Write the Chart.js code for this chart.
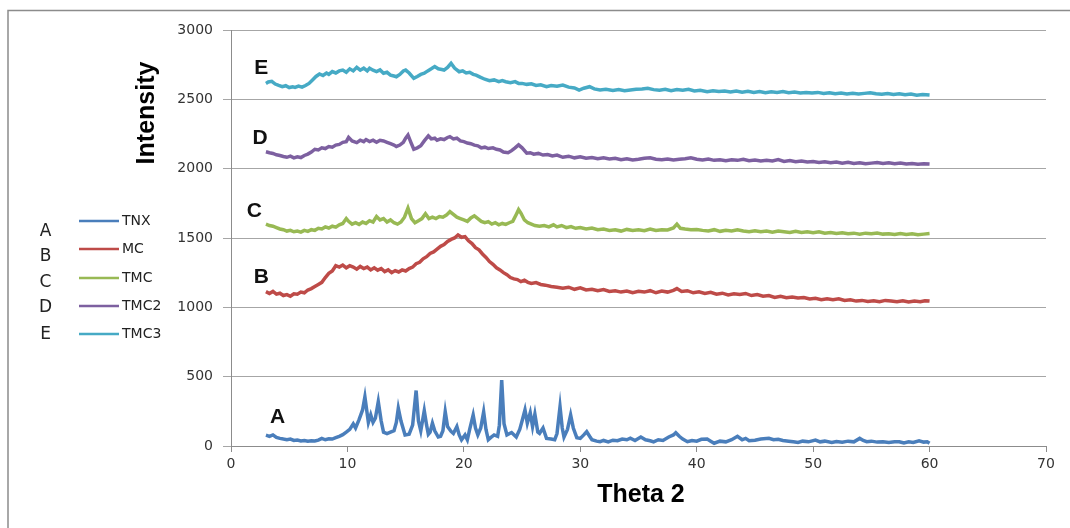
<!DOCTYPE html>
<html>
<head>
<meta charset="utf-8">
<script src="https://cdn.jsdelivr.net/npm/chart.js@4.4.1/dist/chart.umd.min.js"></script>
<style>
  html, body { margin: 0; padding: 0; background: #fff; overflow: hidden; }
  #wrap { width: 1070px; height: 528px; }
</style>
</head>
<body>
<div id="wrap"><canvas id="xrd" width="1070" height="528"></canvas></div>
<script>
// [theta2, intensity] pairs
const TNX = [[3.0,78],[3.3,70],[3.6,80],[3.9,62],[4.2,55],[4.5,50],[4.8,46],[5.1,50],[5.4,40],[5.7,43],[6.0,36],[6.3,40],[6.6,34],[6.9,38],[7.2,36],[7.5,42],[7.8,55],[8.1,45],[8.4,52],[8.7,50],[9.0,60],[9.3,70],[9.6,82],[9.9,100],[10.2,120],[10.5,160],[10.7,130],[11.0,190],[11.3,260],[11.5,355],[11.7,230],[11.8,170],[12.0,225],[12.2,170],[12.4,200],[12.65,320],[12.9,180],[13.1,100],[13.4,90],[13.7,100],[14.0,110],[14.2,170],[14.37,272],[14.6,180],[14.95,80],[15.3,85],[15.6,150],[15.9,400],[16.1,180],[16.3,110],[16.6,255],[16.8,150],[16.95,85],[17.1,100],[17.3,165],[17.5,110],[17.8,65],[18.0,70],[18.2,110],[18.4,247],[18.6,140],[18.9,105],[19.1,90],[19.4,140],[19.6,80],[19.8,45],[20.1,80],[20.3,45],[20.5,120],[20.8,224],[21.0,130],[21.2,80],[21.45,130],[21.7,247],[21.9,120],[22.1,45],[22.3,60],[22.6,80],[22.9,70],[23.05,150],[23.25,476],[23.45,160],[23.7,80],[24.1,97],[24.5,65],[24.8,120],[25.0,180],[25.25,260],[25.45,165],[25.7,240],[25.9,140],[26.1,230],[26.35,100],[26.5,90],[26.8,130],[27.1,55],[27.5,50],[27.8,45],[28.0,90],[28.26,283],[28.45,130],[28.6,65],[28.9,120],[29.17,224],[29.4,130],[29.7,60],[30.0,55],[30.3,80],[30.55,103],[30.8,70],[31.0,45],[31.4,35],[31.7,31],[32.0,40],[32.4,30],[32.8,42],[33.2,38],[33.6,50],[34.0,45],[34.3,57],[34.7,40],[35.2,65],[35.6,45],[36.0,38],[36.3,30],[36.7,45],[37.1,40],[37.6,65],[38.0,80],[38.2,96],[38.5,70],[38.8,50],[39.2,31],[39.6,40],[40.0,35],[40.4,48],[40.9,50],[41.2,35],[41.5,20],[42.0,35],[42.5,30],[43.0,45],[43.5,70],[43.9,45],[44.2,55],[44.5,38],[45.0,42],[45.5,50],[46.2,55],[46.6,45],[47.0,48],[47.4,40],[47.9,35],[48.3,30],[48.7,25],[49.1,35],[49.6,30],[50.2,43],[50.6,30],[51.0,35],[51.6,26],[52.0,32],[52.5,28],[53.0,35],[53.5,30],[54.0,55],[54.3,40],[54.6,31],[55.0,35],[55.5,28],[56.0,30],[56.5,25],[57.0,30],[57.4,31],[57.8,22],[58.2,30],[58.6,25],[59.1,38],[59.5,28],[59.8,30],[60.0,20]];

const MC = [[3.0,1113],[3.3,1100],[3.6,1115],[3.9,1095],[4.2,1102],[4.5,1085],[4.8,1092],[5.1,1080],[5.4,1098],[5.7,1095],[6.0,1110],[6.3,1105],[6.6,1125],[6.9,1135],[7.2,1150],[7.5,1165],[7.8,1180],[8.1,1215],[8.4,1245],[8.7,1262],[9.0,1300],[9.3,1290],[9.6,1305],[9.9,1285],[10.2,1300],[10.5,1290],[10.8,1275],[11.1,1295],[11.4,1280],[11.7,1290],[12.0,1270],[12.3,1285],[12.6,1268],[12.9,1280],[13.2,1258],[13.5,1270],[13.8,1250],[14.1,1265],[14.4,1255],[14.7,1270],[15.0,1262],[15.3,1280],[15.6,1290],[15.9,1315],[16.2,1325],[16.5,1350],[16.8,1365],[17.1,1389],[17.4,1400],[17.7,1420],[18.0,1440],[18.3,1452],[18.6,1475],[18.9,1490],[19.2,1500],[19.5,1522],[19.8,1505],[20.1,1510],[20.4,1480],[20.7,1460],[21.0,1430],[21.3,1415],[21.6,1385],[21.9,1360],[22.2,1330],[22.5,1310],[22.8,1285],[23.1,1270],[23.4,1250],[23.7,1235],[24.0,1215],[24.3,1205],[24.6,1200],[24.9,1185],[25.2,1195],[25.5,1180],[25.8,1172],[26.2,1178],[26.6,1165],[27.0,1160],[27.5,1150],[28.0,1145],[28.5,1137],[29.0,1145],[29.5,1130],[30.0,1140],[30.5,1125],[31.0,1130],[31.5,1120],[32.0,1128],[32.5,1115],[33.0,1120],[33.5,1110],[34.0,1118],[34.5,1105],[35.0,1115],[35.5,1110],[36.0,1120],[36.5,1105],[37.0,1118],[37.5,1110],[38.0,1122],[38.3,1135],[38.7,1115],[39.2,1120],[39.7,1105],[40.2,1112],[40.7,1100],[41.2,1108],[41.7,1095],[42.2,1102],[42.7,1090],[43.2,1098],[43.7,1092],[44.2,1100],[44.7,1085],[45.2,1092],[45.7,1080],[46.2,1085],[46.7,1072],[47.2,1080],[47.7,1070],[48.2,1075],[48.7,1068],[49.2,1070],[49.7,1060],[50.2,1065],[50.7,1055],[51.2,1062],[51.7,1055],[52.2,1062],[52.7,1050],[53.2,1055],[53.7,1045],[54.2,1050],[54.7,1042],[55.2,1048],[55.7,1040],[56.2,1050],[56.7,1045],[57.2,1040],[57.7,1048],[58.2,1038],[58.7,1045],[59.2,1040],[59.6,1048],[60.0,1045]];

const TMC = [[3.0,1600],[3.3,1590],[3.6,1585],[3.9,1575],[4.2,1565],[4.5,1560],[4.8,1550],[5.1,1555],[5.4,1545],[5.7,1550],[6.0,1542],[6.3,1555],[6.6,1548],[6.9,1560],[7.2,1555],[7.5,1570],[7.8,1565],[8.1,1580],[8.4,1572],[8.7,1585],[9.0,1578],[9.3,1595],[9.6,1605],[9.9,1640],[10.1,1620],[10.4,1600],[10.7,1610],[11.0,1598],[11.3,1615],[11.6,1605],[11.9,1625],[12.2,1615],[12.5,1655],[12.8,1630],[13.1,1640],[13.4,1615],[13.7,1630],[14.0,1610],[14.3,1600],[14.6,1615],[14.9,1650],[15.2,1715],[15.5,1640],[15.8,1610],[16.1,1625],[16.4,1640],[16.7,1675],[17.0,1640],[17.3,1650],[17.6,1640],[17.9,1655],[18.2,1650],[18.5,1665],[18.8,1690],[19.1,1670],[19.4,1650],[19.7,1640],[20.0,1630],[20.3,1620],[20.6,1645],[20.9,1660],[21.2,1640],[21.5,1620],[21.8,1610],[22.1,1618],[22.4,1600],[22.7,1610],[23.0,1595],[23.3,1605],[23.6,1598],[23.9,1610],[24.2,1620],[24.5,1670],[24.7,1705],[24.9,1680],[25.2,1630],[25.5,1610],[25.8,1600],[26.1,1590],[26.5,1585],[26.9,1590],[27.3,1580],[27.7,1595],[28.0,1580],[28.4,1590],[28.8,1575],[29.2,1582],[29.6,1570],[30.0,1575],[30.5,1565],[31.0,1572],[31.5,1560],[32.0,1565],[32.5,1555],[33.0,1560],[33.5,1550],[34.0,1562],[34.5,1555],[35.0,1560],[35.5,1552],[36.0,1565],[36.5,1555],[37.0,1560],[37.5,1558],[38.0,1572],[38.3,1600],[38.6,1570],[39.0,1565],[39.5,1560],[40.0,1562],[40.5,1555],[41.0,1550],[41.5,1560],[42.0,1548],[42.5,1556],[43.0,1550],[43.5,1560],[44.0,1550],[44.5,1545],[45.0,1552],[45.5,1545],[46.0,1550],[46.5,1542],[47.0,1550],[47.5,1545],[48.0,1540],[48.5,1548],[49.0,1540],[49.5,1545],[50.0,1538],[50.5,1545],[51.0,1535],[51.5,1540],[52.0,1532],[52.5,1538],[53.0,1530],[53.5,1535],[54.0,1528],[54.5,1535],[55.0,1530],[55.5,1536],[56.0,1528],[56.5,1530],[57.0,1525],[57.5,1532],[58.0,1526],[58.5,1530],[59.0,1524],[59.5,1528],[60.0,1532]];

const TMC2 = [[3.0,2122],[3.3,2115],[3.6,2110],[3.9,2100],[4.2,2095],[4.5,2088],[4.8,2082],[5.1,2090],[5.4,2078],[5.7,2085],[6.0,2080],[6.3,2095],[6.6,2105],[6.9,2120],[7.2,2140],[7.5,2135],[7.8,2150],[8.1,2145],[8.4,2160],[8.7,2155],[9.0,2170],[9.3,2175],[9.6,2190],[9.9,2195],[10.1,2226],[10.4,2200],[10.8,2188],[11.1,2205],[11.4,2195],[11.6,2210],[11.9,2195],[12.2,2205],[12.5,2190],[12.8,2205],[13.1,2200],[13.4,2190],[13.7,2180],[14.0,2170],[14.2,2160],[14.5,2170],[14.8,2190],[15.0,2220],[15.2,2243],[15.45,2190],[15.7,2140],[16.0,2150],[16.3,2165],[16.6,2200],[16.95,2236],[17.2,2215],[17.5,2220],[17.7,2205],[18.0,2215],[18.3,2210],[18.6,2225],[18.8,2231],[19.1,2215],[19.4,2220],[19.7,2200],[20.0,2195],[20.3,2185],[20.6,2180],[20.9,2170],[21.2,2165],[21.5,2150],[21.8,2155],[22.1,2145],[22.5,2150],[22.8,2140],[23.1,2135],[23.4,2120],[23.8,2115],[24.1,2130],[24.4,2150],[24.7,2172],[25.0,2150],[25.4,2112],[25.7,2115],[26.0,2105],[26.4,2110],[26.8,2098],[27.2,2102],[27.6,2092],[28.0,2098],[28.5,2082],[29.0,2090],[29.5,2078],[30.0,2085],[30.5,2075],[31.0,2080],[31.5,2072],[32.0,2078],[32.5,2070],[33.0,2075],[33.5,2065],[34.0,2072],[34.5,2062],[35.0,2068],[35.5,2075],[36.0,2078],[36.5,2068],[37.0,2065],[37.5,2070],[38.0,2062],[38.5,2068],[39.0,2072],[39.5,2078],[40.0,2068],[40.5,2062],[41.0,2070],[41.5,2060],[42.0,2065],[42.5,2058],[43.0,2065],[43.5,2060],[44.0,2068],[44.5,2058],[45.0,2062],[45.5,2055],[46.0,2060],[46.5,2055],[47.0,2065],[47.5,2052],[48.0,2058],[48.5,2050],[49.0,2055],[49.5,2048],[50.0,2052],[50.5,2045],[51.0,2050],[51.5,2042],[52.0,2048],[52.5,2040],[53.0,2046],[53.5,2038],[54.0,2042],[54.5,2035],[55.0,2040],[55.5,2045],[56.0,2038],[56.5,2042],[57.0,2035],[57.5,2040],[58.0,2033],[58.5,2038],[59.0,2032],[59.5,2036],[60.0,2034]];

const TMC3 = [[3.0,2615],[3.2,2625],[3.5,2630],[3.8,2610],[4.1,2600],[4.4,2591],[4.7,2598],[5.0,2585],[5.3,2590],[5.5,2586],[5.8,2595],[6.1,2588],[6.4,2600],[6.7,2615],[7.0,2640],[7.3,2665],[7.6,2683],[7.9,2672],[8.2,2690],[8.4,2680],[8.7,2700],[9.0,2690],[9.3,2705],[9.6,2711],[9.9,2695],[10.2,2720],[10.5,2705],[10.8,2731],[11.1,2710],[11.4,2725],[11.7,2705],[11.9,2724],[12.2,2710],[12.5,2700],[12.8,2712],[13.1,2688],[13.4,2695],[13.7,2675],[14.0,2668],[14.2,2663],[14.5,2680],[14.8,2705],[15.0,2711],[15.3,2690],[15.7,2651],[16.0,2665],[16.3,2680],[16.6,2688],[16.9,2705],[17.2,2720],[17.5,2736],[17.8,2720],[18.1,2715],[18.3,2711],[18.6,2730],[18.9,2760],[19.2,2725],[19.6,2699],[19.9,2705],[20.2,2690],[20.5,2695],[20.8,2680],[21.05,2675],[21.4,2660],[21.8,2645],[22.2,2634],[22.6,2640],[23.0,2628],[23.3,2635],[23.6,2627],[24.0,2620],[24.4,2628],[24.7,2615],[25.0,2615],[25.4,2608],[25.8,2612],[26.2,2600],[26.6,2605],[27.1,2591],[27.5,2600],[28.0,2595],[28.5,2603],[29.0,2588],[29.5,2582],[29.9,2567],[30.3,2580],[30.8,2591],[31.2,2575],[31.7,2567],[32.2,2572],[32.8,2563],[33.3,2570],[33.8,2562],[34.3,2567],[34.8,2572],[35.3,2575],[35.8,2579],[36.3,2570],[36.8,2565],[37.3,2572],[37.8,2562],[38.3,2570],[38.8,2565],[39.3,2572],[39.8,2560],[40.3,2566],[40.9,2555],[41.4,2562],[41.9,2556],[42.4,2560],[42.9,2553],[43.4,2560],[43.9,2552],[44.4,2558],[44.9,2550],[45.4,2556],[45.9,2548],[46.4,2554],[46.9,2550],[47.4,2556],[47.9,2548],[48.4,2552],[48.9,2545],[49.4,2550],[49.9,2545],[50.4,2550],[50.9,2542],[51.4,2548],[51.9,2540],[52.4,2545],[52.9,2538],[53.4,2544],[53.9,2538],[54.4,2543],[54.9,2548],[55.4,2540],[55.9,2536],[56.4,2542],[56.9,2535],[57.4,2540],[57.9,2533],[58.4,2538],[58.9,2530],[59.4,2535],[60.0,2531]];

const seriesNames = ['TNX', 'MC', 'TMC', 'TMC2', 'TMC3'];
const seriesLetters = ['A', 'B', 'C', 'D', 'E'];
const seriesData = [TNX, MC, TMC, TMC2, TMC3];
const seriesColors = ['#4a7ebb', '#be4b48', '#98b954', '#7d60a0', '#46aac5'];
// where each letter sits on the plot, in data units
const letterSpots = [[4.0, 205], [2.6, 1215], [2.0, 1690], [2.5, 2221], [2.6, 2726]];

const xTicks = [0, 10, 20, 30, 40, 50, 60, 70];
const yTicks = [0, 500, 1000, 1500, 2000, 2500, 3000];

const decor = {
  id: 'decor',
  afterDraw(chart) {
    const ctx = chart.ctx;
    const xs = chart.scales.x, ys = chart.scales.y;
    ctx.save();

    // outer frame, only its left and top edges fall inside the picture
    ctx.strokeStyle = '#8c8c8c';
    ctx.lineWidth = 1.5;
    ctx.beginPath();
    ctx.moveTo(8, 528);
    ctx.lineTo(8, 10.5);
    ctx.lineTo(1070, 10.5);
    ctx.stroke();

    // axis titles
    ctx.fillStyle = '#000';
    ctx.font = 'bold 25px "Liberation Sans Narrow", "Liberation Sans", sans-serif';
    ctx.textAlign = 'center';
    ctx.textBaseline = 'middle';
    ctx.fillText('Theta 2', 641, 495);
    ctx.save();
    ctx.translate(147, 113);
    ctx.rotate(-Math.PI / 2);
    ctx.fillText('Intensity', 0, 0);
    ctx.restore();

    // legend at left
    const legY = [221, 249, 278, 306, 334];
    const letY = [232, 257, 283, 308, 335];
    seriesNames.forEach((name, i) => {
      ctx.strokeStyle = seriesColors[i];
      ctx.lineWidth = 2.5;
      ctx.beginPath();
      ctx.moveTo(79, legY[i]);
      ctx.lineTo(119, legY[i]);
      ctx.stroke();
      ctx.fillStyle = '#222';
      ctx.font = '14px "DejaVu Sans", sans-serif';
      ctx.textAlign = 'left';
      ctx.fillText(name, 122, legY[i]);
      ctx.font = '17px "DejaVu Sans", sans-serif';
      ctx.textAlign = 'center';
      ctx.fillText(seriesLetters[i], 45.5, letY[i]);
    });

    // letters next to the curves
    ctx.font = 'bold 21px "Liberation Sans Narrow", "Liberation Sans", sans-serif';
    ctx.fillStyle = '#111';
    ctx.textAlign = 'center';
    letterSpots.forEach((p, i) => {
      ctx.fillText(seriesLetters[i], xs.getPixelForValue(p[0]), ys.getPixelForValue(p[1]));
    });
    ctx.restore();
  }
};

new Chart(document.getElementById('xrd'), {
  type: 'line',
  data: {
    datasets: seriesData.map((d, i) => ({
      label: seriesNames[i],
      data: d.map(p => ({ x: p[0], y: p[1] })),
      borderColor: seriesColors[i],
      backgroundColor: seriesColors[i],
      borderWidth: 3.5,
      pointRadius: 0,
      tension: 0,
      fill: false
    }))
  },
  options: {
    responsive: false,
    animation: false,
    layout: { padding: { left: 0, top: 30, right: 24, bottom: 0 } },
    plugins: { legend: { display: false }, tooltip: { enabled: false } },
    scales: {
      x: {
        type: 'linear',
        min: 0, max: 70,
        afterFit: (s) => { s.height = 82; },
        afterBuildTicks: (s) => { s.ticks = xTicks.map(v => ({ value: v })); },
        grid: { drawOnChartArea: false, drawTicks: true, tickLength: 6, color: '#8c8c8c' },
        border: { color: '#8c8c8c', width: 1 },
        ticks: { color: '#333', font: { family: 'DejaVu Sans', size: 14 }, padding: 4, maxRotation: 0,
                 callback: (v) => String(v) }
      },
      y: {
        min: 0, max: 3000,
        afterFit: (s) => { s.width = 231; },
        afterBuildTicks: (s) => { s.ticks = yTicks.map(v => ({ value: v })); },
        grid: { color: '#a6a6a6', tickLength: 8, lineWidth: 1 },
        border: { color: '#8c8c8c', width: 1 },
        ticks: { color: '#333', font: { family: 'DejaVu Sans', size: 14 }, padding: 10,
                 callback: (v) => String(v) }
      }
    }
  },
  plugins: [decor]
});
</script>
</body>
</html>
